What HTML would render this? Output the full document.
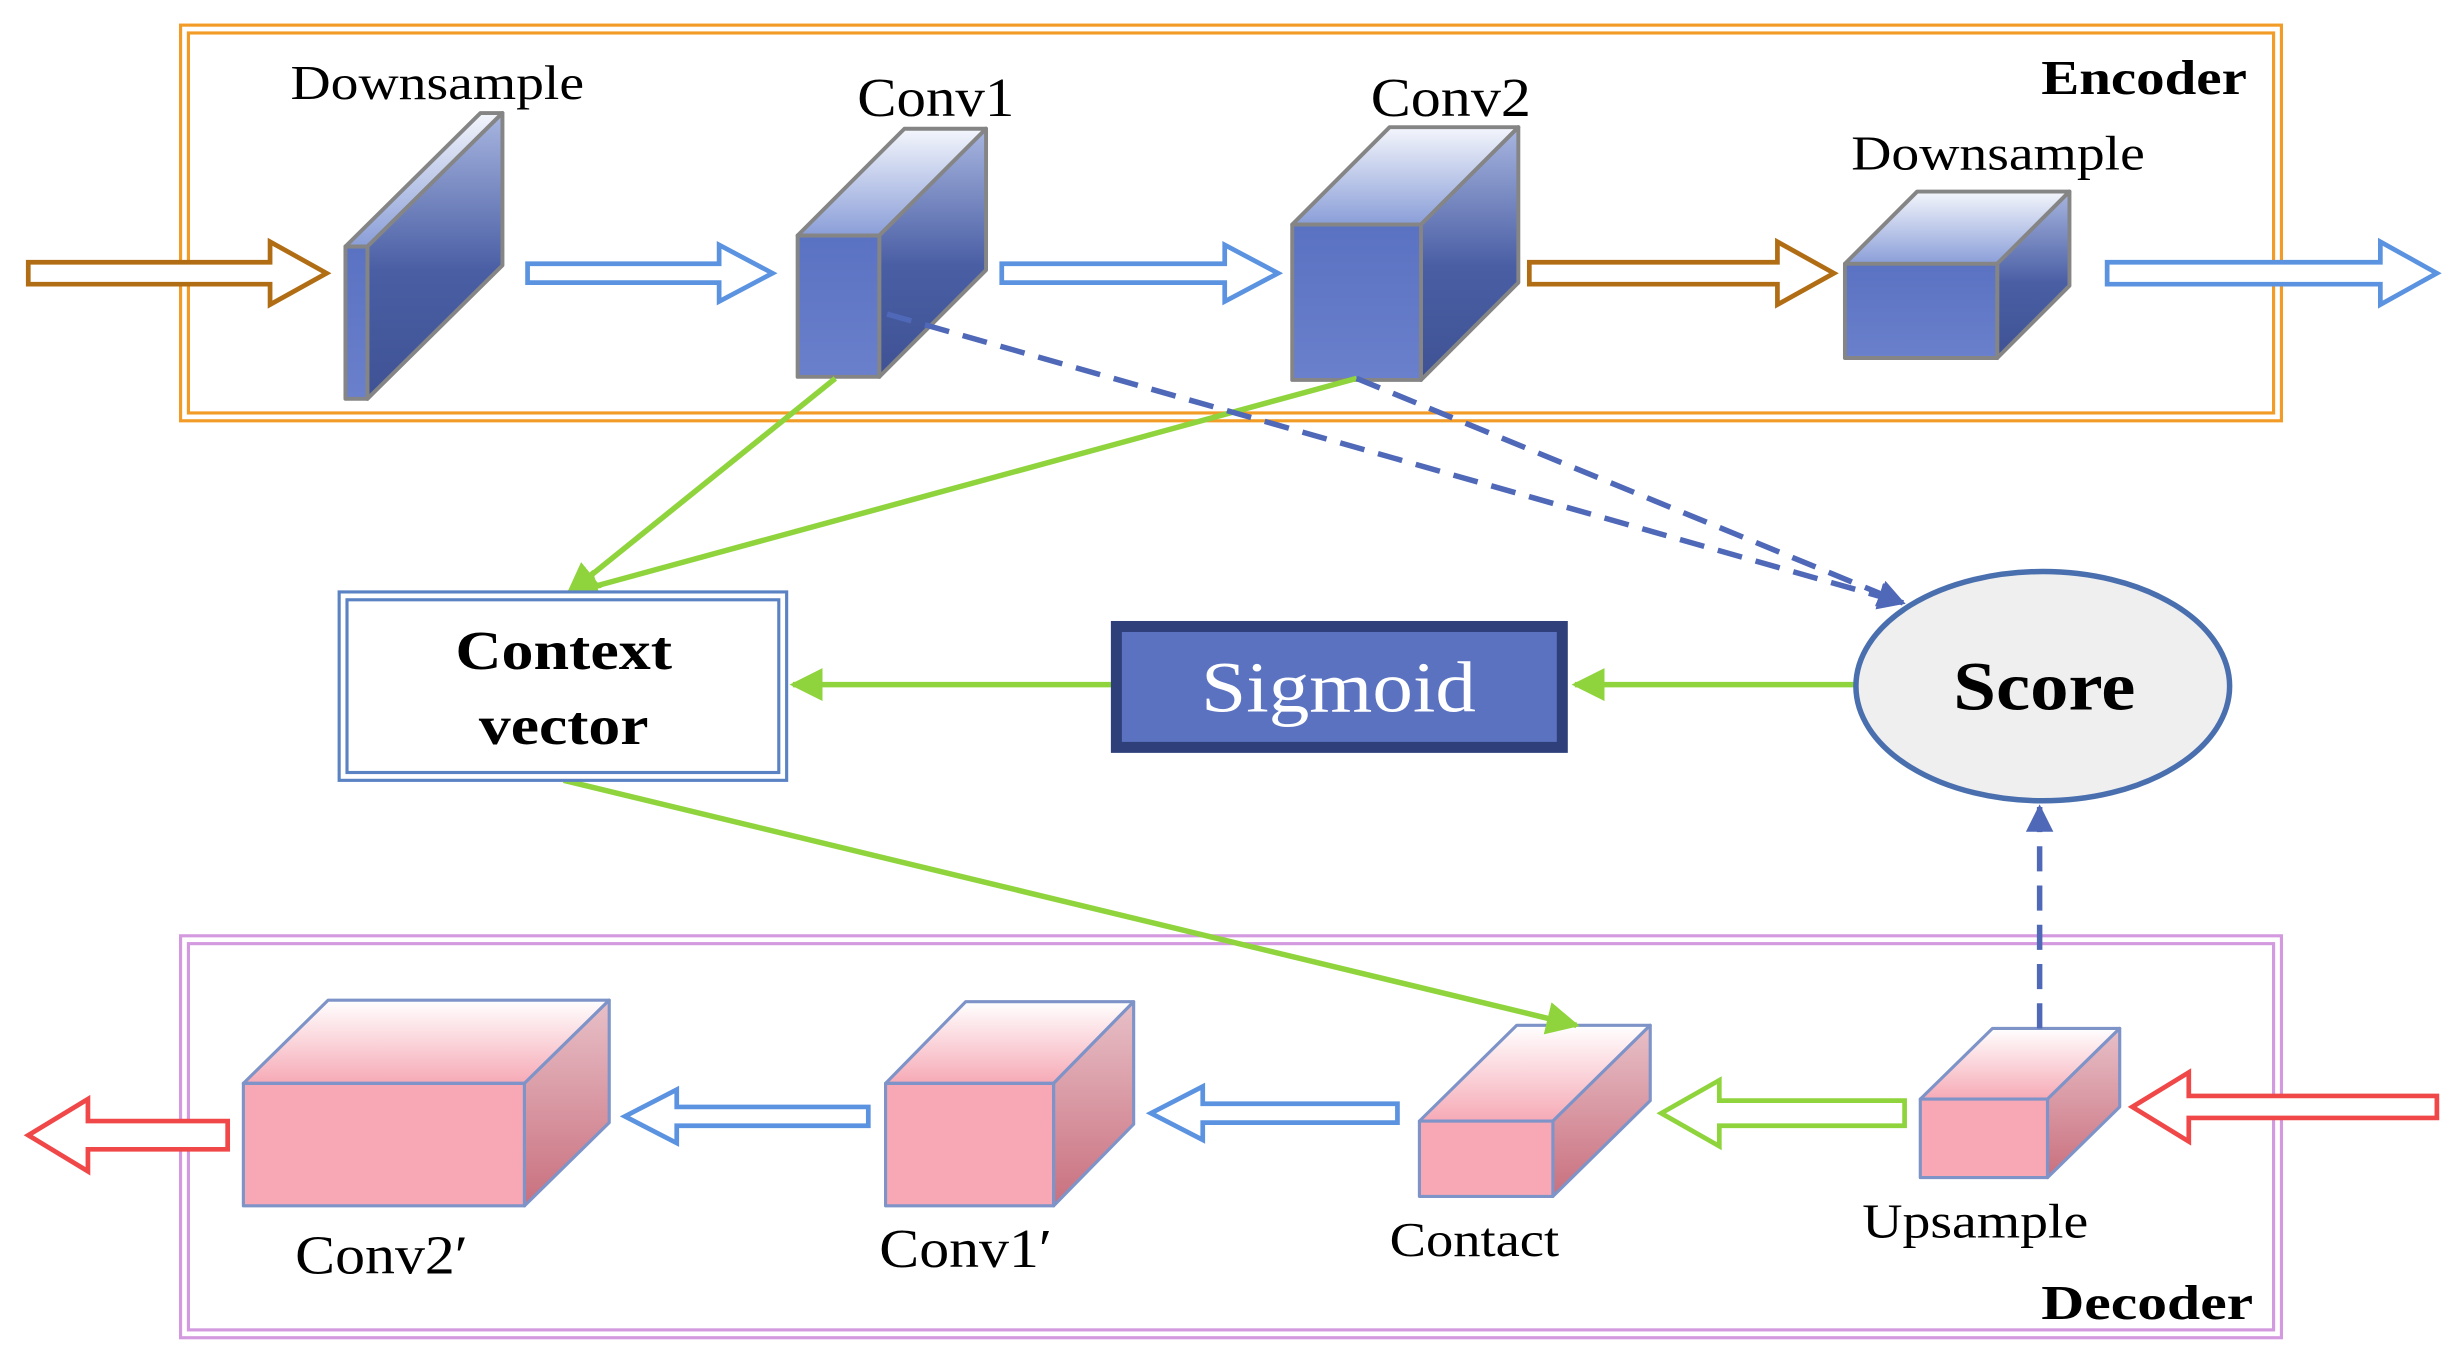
<!DOCTYPE html>
<html><head><meta charset="utf-8"><style>html,body{margin:0;padding:0;background:#fff}svg{display:block}</style></head>
<body>
<svg width="2462" height="1366" viewBox="0 0 1568 870" preserveAspectRatio="none" xmlns="http://www.w3.org/2000/svg" font-family="'Liberation Serif', serif">
<defs>
<linearGradient id="bt" x1="0" y1="1" x2="0" y2="0"><stop offset="0" stop-color="#8a9ed8"/><stop offset="1" stop-color="#f4f6fc"/></linearGradient>
<linearGradient id="bs" x1="0" y1="0" x2="0" y2="1"><stop offset="0" stop-color="#a8b6e0"/><stop offset="0.55" stop-color="#4a5ea4"/><stop offset="1" stop-color="#3e5294"/></linearGradient>
<linearGradient id="bf" x1="0" y1="0" x2="0" y2="1"><stop offset="0" stop-color="#5a72c2"/><stop offset="1" stop-color="#6a80cc"/></linearGradient>
<linearGradient id="pt" x1="0" y1="1" x2="0" y2="0"><stop offset="0" stop-color="#f6aab6"/><stop offset="1" stop-color="#ffffff"/></linearGradient>
<linearGradient id="ps" x1="0" y1="0" x2="0" y2="1"><stop offset="0" stop-color="#e8c0c8"/><stop offset="1" stop-color="#c9707e"/></linearGradient>
<marker id="ga" viewBox="0 0 10 10" refX="9" refY="5" markerWidth="6" markerHeight="6" orient="auto"><path d="M0,0 L10,5 L0,10 z" fill="#8fd43c"/></marker>
<marker id="ba" viewBox="0 0 10 10" refX="9" refY="5" markerWidth="5" markerHeight="5" orient="auto"><path d="M0,0 L10,5 L0,10 z" fill="#4f68b8"/></marker>
</defs>

<rect x="115" y="16" width="1338" height="252" fill="none" stroke="#f29b26" stroke-width="2"/>
<rect x="120" y="21" width="1328" height="242" fill="none" stroke="#f29b26" stroke-width="2"/>
<text x="1300" y="60" font-size="31" font-weight="bold" textLength="131" lengthAdjust="spacingAndGlyphs">Encoder</text>

<rect x="115" y="596" width="1338" height="256" fill="none" stroke="#d49ae0" stroke-width="2"/>
<rect x="120" y="601" width="1328" height="246" fill="none" stroke="#d49ae0" stroke-width="2"/>
<text x="1300" y="840" font-size="31" font-weight="bold" textLength="135" lengthAdjust="spacingAndGlyphs">Decoder</text>

<g stroke-width="3" fill="#fff">
<polygon stroke="#b06d14" points="18,167 172,167 172,154 208,174 172,194 172,181 18,181"/>
<polygon stroke="#5b93e0" points="336,168 458,168 458,156 492,174 458,192 458,180 336,180"/>
<polygon stroke="#5b93e0" points="638,168 780,168 780,156 814,174 780,192 780,180 638,180"/>
<polygon stroke="#b06d14" points="974,167 1132,167 1132,154 1168,174 1132,194 1132,181 974,181"/>
<polygon stroke="#5b93e0" points="1342,167 1516,167 1516,154 1552,174 1516,194 1516,181 1342,181"/>
<polygon stroke="#f04848" points="1552,698 1394,698 1394,683 1358,705 1394,727 1394,712 1552,712"/>
<polygon stroke="#8fd43c" points="1213,701 1095,701 1095,688 1058,709 1095,730 1095,717 1213,717"/>
<polygon stroke="#5b93e0" points="890,703 766,703 766,692 733,709 766,726 766,715 890,715"/>
<polygon stroke="#5b93e0" points="553,705 431,705 431,694 398,711 431,728 431,717 553,717"/>
<polygon stroke="#f04848" points="145,714 56,714 56,700 18,723 56,746 56,732 145,732"/>
</g>

<g stroke="#858585" stroke-width="2.5" stroke-linejoin="round">
<polygon fill="url(#bt)" points="220,157 306,72 320,72 234,157"/>
<polygon fill="url(#bs)" points="234,157 320,72 320,169 234,254"/>
<rect x="220" y="157" width="14" height="97" fill="url(#bf)"/>
<polygon fill="url(#bt)" points="508,150 576,82 628,82 560,150"/>
<polygon fill="url(#bs)" points="560,150 628,82 628,172 560,240"/>
<rect x="508" y="150" width="52" height="90" fill="url(#bf)"/>
<polygon fill="url(#bt)" points="823,143 885,81 967,81 905,143"/>
<polygon fill="url(#bs)" points="905,143 967,81 967,180 905,242"/>
<rect x="823" y="143" width="82" height="99" fill="url(#bf)"/>
<polygon fill="url(#bt)" points="1175,168 1221,122 1318,122 1272,168"/>
<polygon fill="url(#bs)" points="1272,168 1318,122 1318,182 1272,228"/>
<rect x="1175" y="168" width="97" height="60" fill="url(#bf)"/>
</g>
<g font-size="31" lengthAdjust="spacingAndGlyphs">
<text x="185" y="63" textLength="187" lengthAdjust="spacingAndGlyphs">Downsample</text>
<text x="546" y="74" font-size="35" textLength="100" lengthAdjust="spacingAndGlyphs">Conv1</text>
<text x="873" y="74" font-size="35" textLength="102" lengthAdjust="spacingAndGlyphs">Conv2</text>
<text x="1179" y="108" textLength="187" lengthAdjust="spacingAndGlyphs">Downsample</text>
</g>

<g stroke="#7e93c8" stroke-width="2" stroke-linejoin="round">
<polygon fill="url(#pt)" points="1223,700 1269,655 1350,655 1304,700"/>
<polygon fill="url(#ps)" points="1304,700 1350,655 1350,705 1304,750"/>
<rect x="1223" y="700" width="81" height="50" fill="#f8a8b4"/>
<polygon fill="url(#pt)" points="904,714 966,653 1051,653 989,714"/>
<polygon fill="url(#ps)" points="989,714 1051,653 1051,701 989,762"/>
<rect x="904" y="714" width="85" height="48" fill="#f8a8b4"/>
<polygon fill="url(#pt)" points="564,690 615,638 722,638 671,690"/>
<polygon fill="url(#ps)" points="671,690 722,638 722,716 671,768"/>
<rect x="564" y="690" width="107" height="78" fill="#f8a8b4"/>
<polygon fill="url(#pt)" points="155,690 209,637 388,637 334,690"/>
<polygon fill="url(#ps)" points="334,690 388,637 388,715 334,768"/>
<rect x="155" y="690" width="179" height="78" fill="#f8a8b4"/>
</g>
<g font-size="31">
<text x="1186" y="788" textLength="144" lengthAdjust="spacingAndGlyphs">Upsample</text>
<text x="885" y="800" textLength="108" lengthAdjust="spacingAndGlyphs">Contact</text>
<text x="560" y="807" font-size="35" textLength="110" lengthAdjust="spacingAndGlyphs">Conv1′</text>
<text x="188" y="811" font-size="35" textLength="110" lengthAdjust="spacingAndGlyphs">Conv2′</text>
</g>

<g fill="none" stroke-width="3.5">
<line x1="532" y1="241" x2="362" y2="378" stroke="#8fd43c" marker-end="url(#ga)"/>
<line x1="864" y1="241" x2="362" y2="378" stroke="#8fd43c" marker-end="url(#ga)"/>
<line x1="359" y1="497" x2="1004" y2="653" stroke="#8fd43c" marker-end="url(#ga)"/>
<line x1="1181" y1="436" x2="1003" y2="436" stroke="#8fd43c" marker-end="url(#ga)"/>
<line x1="708" y1="436" x2="505" y2="436" stroke="#8fd43c" marker-end="url(#ga)"/>
<line x1="565" y1="200" x2="1212" y2="384" stroke="#4f68b8" stroke-dasharray="16,9" marker-end="url(#ba)"/>
<line x1="864" y1="241" x2="1212" y2="384" stroke="#4f68b8" stroke-dasharray="16,9" marker-end="url(#ba)"/>
<line x1="1299" y1="655" x2="1299" y2="514" stroke="#4f68b8" stroke-dasharray="16,9" marker-end="url(#ba)"/>
</g>

<rect x="216" y="377" width="285" height="120" fill="#fff" stroke="#5b83c4" stroke-width="2"/>
<rect x="221" y="382" width="275" height="110" fill="none" stroke="#5b83c4" stroke-width="2"/>
<text x="290" y="426" font-size="35" font-weight="bold" textLength="138" lengthAdjust="spacingAndGlyphs">Context</text>
<text x="305" y="474" font-size="35" font-weight="bold" textLength="108" lengthAdjust="spacingAndGlyphs">vector</text>

<rect x="711" y="399" width="284" height="77" fill="#5b72c0" stroke="#2e3f7a" stroke-width="7"/>
<text x="765" y="453" font-size="46" fill="#fff" textLength="175" lengthAdjust="spacingAndGlyphs">Sigmoid</text>

<ellipse cx="1301" cy="437" rx="119" ry="73" fill="#efefef" stroke="#4a6fae" stroke-width="3.5"/>
<text x="1244" y="452" font-size="44" font-weight="bold" textLength="116" lengthAdjust="spacingAndGlyphs">Score</text>
</svg>
</body></html>
